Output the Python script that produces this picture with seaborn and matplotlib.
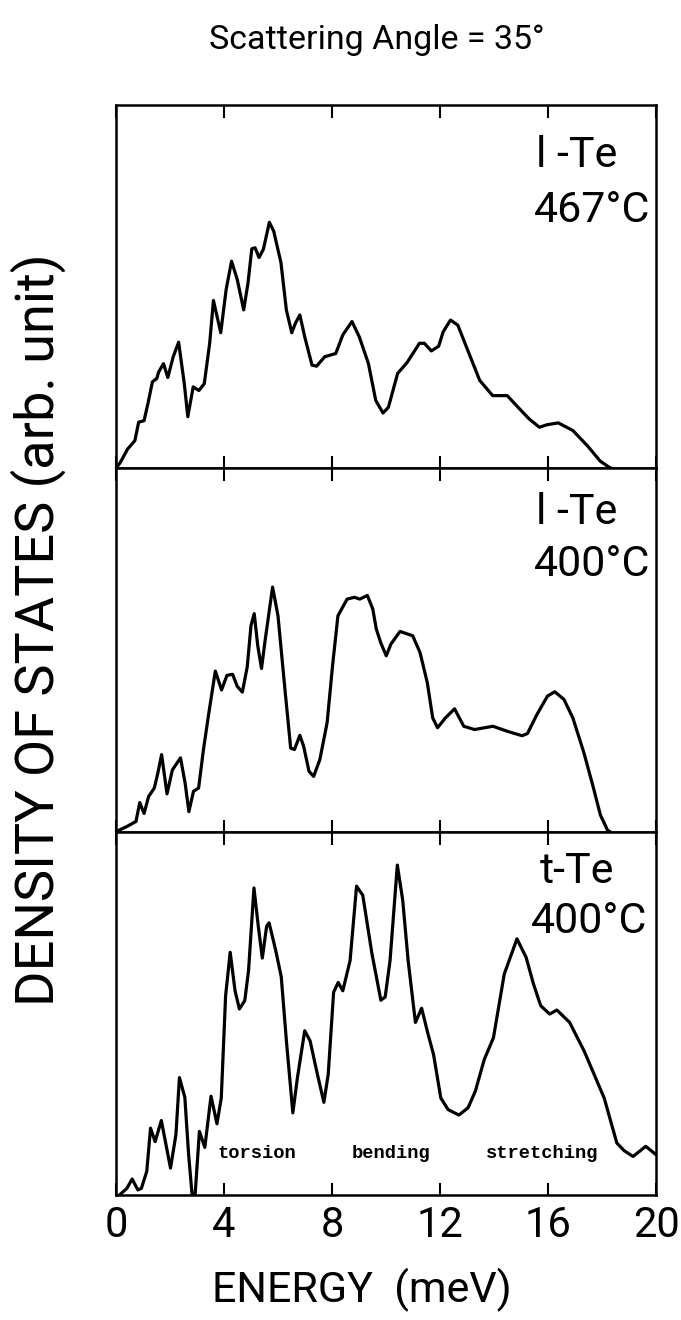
import matplotlib
matplotlib.use("Agg")
import matplotlib.pyplot as plt
import seaborn as sns
import pandas as pd

sns.set_theme(style="white")
plt.rcParams['font.family'] = ['Roboto', 'DejaVu Sans']
plt.rcParams['text.color'] = 'black'

# ---- data (energy in meV, DOS in arb. units) ----
e_467 = [0, 0.16, 0.43, 0.7, 0.84, 1.04, 1.18, 1.35, 1.51, 1.58, 1.76, 1.92, 2.12, 2.32, 2.53, 2.66,
         2.86, 3.07, 3.27, 3.47, 3.61, 3.88, 4.08, 4.28, 4.49, 4.73, 4.89, 5.03, 5.15, 5.3, 5.46, 5.68,
         5.84, 6.11, 6.31, 6.51, 6.65, 6.81, 6.99, 7.26, 7.43, 7.73, 8.14, 8.4, 8.74, 9.01, 9.35,
         9.62, 9.89, 10.09, 10.43, 10.77, 11.24, 11.42, 11.68, 11.95, 12.12, 12.39, 12.66, 13.0,
         13.47, 13.95, 14.49, 14.89, 15.3, 15.68, 15.97, 16.38, 16.92, 17.46, 17.93, 18.24, 18.35]
d_467 = [0, 0.016, 0.053, 0.076, 0.127, 0.131, 0.177, 0.238, 0.247, 0.265, 0.288, 0.25, 0.307, 0.347,
         0.233, 0.142, 0.224, 0.214, 0.233, 0.344, 0.462, 0.373, 0.492, 0.57, 0.52, 0.436, 0.51,
         0.604, 0.607, 0.58, 0.603, 0.677, 0.653, 0.566, 0.436, 0.373, 0.4, 0.422, 0.362, 0.284,
         0.281, 0.307, 0.316, 0.367, 0.404, 0.362, 0.288, 0.187, 0.152, 0.168, 0.261, 0.29, 0.344,
         0.344, 0.323, 0.336, 0.376, 0.408, 0.394, 0.33, 0.242, 0.2, 0.2, 0.168, 0.136, 0.113, 0.12,
         0.125, 0.104, 0.062, 0.02, 0.004, 0]

e_400l = [0, 0.4, 0.74, 0.88, 1.04, 1.21, 1.42, 1.55, 1.69, 1.89, 2.09, 2.39, 2.56, 2.7, 2.87, 3.06,
          3.24, 3.44, 3.68, 3.91, 4.11, 4.32, 4.49, 4.68, 4.86, 5.0, 5.12, 5.25, 5.39, 5.53, 5.8,
          6.0, 6.27, 6.47, 6.61, 6.81, 6.95, 7.15, 7.32, 7.55, 7.82, 8.02, 8.22, 8.56, 8.83, 9.03,
          9.31, 9.51, 9.64, 9.8, 10.01, 10.18, 10.52, 10.99, 11.26, 11.53, 11.73, 11.91, 12.2,
          12.54, 12.88, 13.28, 13.96, 14.5, 15.04, 15.24, 15.58, 15.98, 16.25, 16.59, 16.92, 17.33,
          17.67, 17.94, 18.21, 18.3]
d_400l = [0, 0.014, 0.028, 0.08, 0.05, 0.097, 0.12, 0.161, 0.212, 0.104, 0.17, 0.203, 0.134, 0.055,
          0.111, 0.12, 0.226, 0.327, 0.442, 0.39, 0.43, 0.433, 0.4, 0.384, 0.453, 0.567, 0.6, 0.512,
          0.449, 0.53, 0.673, 0.594, 0.382, 0.23, 0.226, 0.265, 0.235, 0.166, 0.152, 0.198, 0.3,
          0.456, 0.594, 0.64, 0.645, 0.64, 0.65, 0.613, 0.558, 0.521, 0.484, 0.516, 0.551, 0.539,
          0.493, 0.41, 0.313, 0.286, 0.313, 0.338, 0.29, 0.281, 0.29, 0.276, 0.264, 0.27, 0.321,
          0.373, 0.385, 0.364, 0.313, 0.217, 0.124, 0.046, 0.003, 0]

e_400t = [0.13, 0.4, 0.6, 0.81, 0.94, 1.14, 1.28, 1.45, 1.68, 2.02, 2.22, 2.35, 2.55, 2.69, 2.82,
          2.93, 3.09, 3.29, 3.52, 3.74, 3.9, 4.06, 4.23, 4.41, 4.57, 4.77, 4.91, 5.11, 5.27, 5.42,
          5.58, 5.67, 5.91, 6.12, 6.32, 6.55, 6.72, 6.99, 7.19, 7.46, 7.7, 7.86, 8.06, 8.23, 8.4,
          8.67, 8.91, 9.14, 9.48, 9.81, 9.97, 10.15, 10.42, 10.62, 10.82, 11.09, 11.32, 11.56,
          11.76, 12.03, 12.3, 12.7, 13.04, 13.31, 13.64, 13.98, 14.38, 14.85, 15.19, 15.46, 15.73,
          16.06, 16.33, 16.8, 17.34, 18.08, 18.55, 18.82, 19.15, 19.62, 20.0]
d_400t = [0, 0.018, 0.044, 0.014, 0.018, 0.065, 0.184, 0.147, 0.205, 0.074, 0.166, 0.323, 0.269,
          0.111, 0.0, 0.0, 0.175, 0.131, 0.272, 0.196, 0.267, 0.548, 0.668, 0.562, 0.512, 0.535,
          0.618, 0.845, 0.74, 0.652, 0.74, 0.749, 0.675, 0.601, 0.417, 0.226, 0.323, 0.452, 0.424,
          0.332, 0.255, 0.332, 0.558, 0.585, 0.562, 0.645, 0.85, 0.825, 0.664, 0.536, 0.545, 0.645,
          0.908, 0.811, 0.645, 0.475, 0.514, 0.442, 0.387, 0.267, 0.235, 0.22, 0.24, 0.286, 0.373,
          0.433, 0.608, 0.705, 0.654, 0.581, 0.521, 0.498, 0.509, 0.475, 0.396, 0.267, 0.143,
          0.122, 0.106, 0.134, 0.111]

panel_labels = [("l -Te", "467°C"), ("l -Te", "400°C"), ("t-Te", "400°C")]
mode_labels = ["torsion", "bending", "stretching"]
mode_pos = [5.2, 10.2, 15.8]
x_ticks = [0, 4, 8, 12, 16, 20]

series = [(e_467, d_467), (e_400l, d_400l), (e_400t, d_400t)]

fig = plt.figure(figsize=(6.81, 13.2), dpi=100)
gs = fig.add_gridspec(3, 1, left=0.1703, right=0.9633, bottom=0.0947, top=0.9205, hspace=0)
axes = [fig.add_subplot(gs[i]) for i in range(3)]

label_y = [(0.86, 0.71), (0.877, 0.734), (0.89, 0.753)]
label_x = [(0.928, 0.99), (0.928, 0.99), (0.922, 0.985)]

for i, ax in enumerate(axes):
    e, d = series[i]
    df = pd.DataFrame({"E": e, "D": d})
    sns.lineplot(data=df, x="E", y="D", ax=ax, color="black", linewidth=2.3, sort=False,
                 estimator=None)
    ax.set_xlim(0, 20)
    ax.set_ylim(0, 1)
    ax.set_yticks([])
    ax.set_xticks(x_ticks)
    ax.set_xlabel("")
    ax.set_ylabel("")
    ax.tick_params(axis="x", direction="in", length=9, width=1.5, top=True, bottom=True,
                   labelbottom=(i == 2), colors="black", labelsize=30, pad=7)
    for s in ax.spines.values():
        s.set_visible(True)
        s.set_color("black")
        s.set_linewidth(1.8)
    ax.set_facecolor("white")
    t1, t2 = panel_labels[i]
    ax.text(label_x[i][0], label_y[i][0], t1, transform=ax.transAxes, ha="right", va="center",
            fontsize=31, color="black")
    ax.text(label_x[i][1], label_y[i][1], t2, transform=ax.transAxes, ha="right", va="center",
            fontsize=31, color="black")

for lab, xp in zip(mode_labels, mode_pos):
    axes[2].text(xp, 0.115, lab, ha="center", va="center", fontsize=13.5,
                 family=["Liberation Mono", "DejaVu Sans Mono"], fontweight="bold", color="black")

fig.text(0.553, 0.97, "Scattering Angle = 35°", ha="center", va="center", fontsize=24.5,
         color="black")
fig.text(0.056, 0.523, "DENSITY OF STATES (arb. unit)", rotation=90, ha="center", va="center",
         fontsize=39, color="black")
fig.text(0.532, 0.023, "ENERGY  (meV)", ha="center", va="center", fontsize=31, color="black")

fig.savefig("out.png", dpi=100, facecolor="white")
